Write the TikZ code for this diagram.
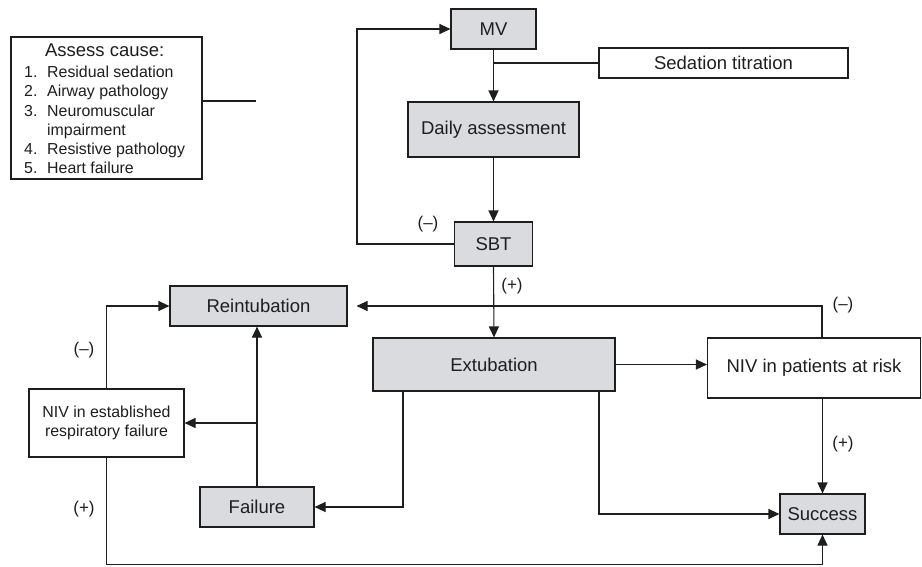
\documentclass[tikz,border=0pt]{standalone}
\usepackage{fontspec}
\setmainfont{Liberation Sans}
\usetikzlibrary{arrows.meta,calc}
\definecolor{boxgray}{RGB}{218,219,222}
\definecolor{ink}{RGB}{30,30,30}
\begin{document}
\begin{tikzpicture}[x=1pt,y=-1pt,
  every node/.style={text=ink},
  base/.style={draw=ink,line width=1.1pt,inner sep=0pt,font=\fontsize{18.5}{22}\selectfont},
  graybox/.style={base,fill=boxgray},
  whitebox/.style={base,fill=white},
  conn/.style={draw=ink,line width=1.1pt},
  arr/.style={conn,-{Triangle[length=11pt,width=10pt]}},
  lbl/.style={font=\fontsize{17}{20}\selectfont,inner sep=0pt},
  small/.style={font=\fontsize{15.9}{19}\selectfont,inner sep=0pt,anchor=base west}]
\useasboundingbox (0,0) rectangle (922,566);
% boxes
\node[whitebox,minimum width=191pt,minimum height=142pt] (assess) at (106.5,108) {};
\node[inner sep=0pt,anchor=base,font=\fontsize{18.5}{22}\selectfont] (ahead) at (104.7,56) {Assess cause:};
\node[small] (n1) at (24,77) {1.};\node[small] (t1) at (47,77) {Residual sedation};
\node[small] (n2) at (24,96.5) {2.};\node[small] (t2) at (47,96.5) {Airway pathology};
\node[small] (n3) at (24,116) {3.};\node[small] (t3) at (47,116) {Neuromuscular};
\node[small] (t3b) at (47,135) {impairment};
\node[small] (n4) at (24,154) {4.};\node[small] (t4) at (47,154) {Resistive pathology};
\node[small] (n5) at (24,173) {5.};\node[small] (t5) at (47,173) {Heart failure};

\node[graybox,minimum width=85pt,minimum height=40pt] (mv) at (493.5,29) {MV};
\node[whitebox,minimum width=249pt,minimum height=30pt] (sed) at (723.5,63) {Sedation titration};
\node[graybox,minimum width=171pt,minimum height=55pt] (daily) at (493.5,129.5) {Daily assessment};
\node[graybox,minimum width=78pt,minimum height=44pt] (sbt) at (493.5,244) {SBT};
\node[graybox,minimum width=177pt,minimum height=40pt] (reint) at (258.5,306) {Reintubation};
\node[graybox,minimum width=242pt,minimum height=53pt] (ext) at (494,364.5) {Extubation};
\node[whitebox,minimum width=213pt,minimum height=60pt] (nivrisk) at (814,368) {NIV in patients at risk};
\node[whitebox,minimum width=155pt,minimum height=68pt,align=center,font=\fontsize{15.9}{19}\selectfont] (nivest) at (106.5,423) {NIV in established\\respiratory failure};
\node[graybox,minimum width=114pt,minimum height=40pt] (fail) at (257,507) {Failure};
\node[graybox,minimum width=85pt,minimum height=40pt] (succ) at (822.5,514) {Success};

% connectors
\coordinate (causeend) at (256,101);
\draw[conn] (assess.east |- causeend) -- (causeend);
\draw[arr] (mv.south) -- (daily.north);
\draw[conn] (sed.west) -- (sed.west -| mv.south);
\draw[arr] (daily.south) -- (sbt.north);
\draw[arr] (sbt.west) -- ++(-97,0) |- (mv.west);
\draw[arr] (sbt.south) -- (ext.north);
\draw[arr] ([xshift=8pt]nivrisk.north) |- ([xshift=9pt]reint.east);
\draw[arr] (ext.east) -- (ext.east -| nivrisk.west);
\draw[arr] (succ.north |- nivrisk.south) -- (succ.north);
\draw[arr] ([xshift=105pt]ext.south) |- (succ.west);
\draw[arr] ([xshift=-91pt]ext.south) |- (fail.east);
\draw[arr] (fail.north) -- (fail.north |- reint.south);
\draw[arr] (fail.north |- nivest.east) -- (nivest.east);
\draw[arr] (nivest.north) |- (reint.west);
\draw[arr] (nivest.south) -- ++(0,107) -| (succ.south);

% labels
\node[lbl] (lm1) at (428,224) {(–)};
\node[lbl] (lp1) at (512,286) {(+)};
\node[lbl] (lm2) at (843,305) {(–)};
\node[lbl] (lp2) at (843,444) {(+)};
\node[lbl] (lm3) at (84,350) {(–)};
\node[lbl] (lp3) at (84,509) {(+)};
\end{tikzpicture}
\end{document}
